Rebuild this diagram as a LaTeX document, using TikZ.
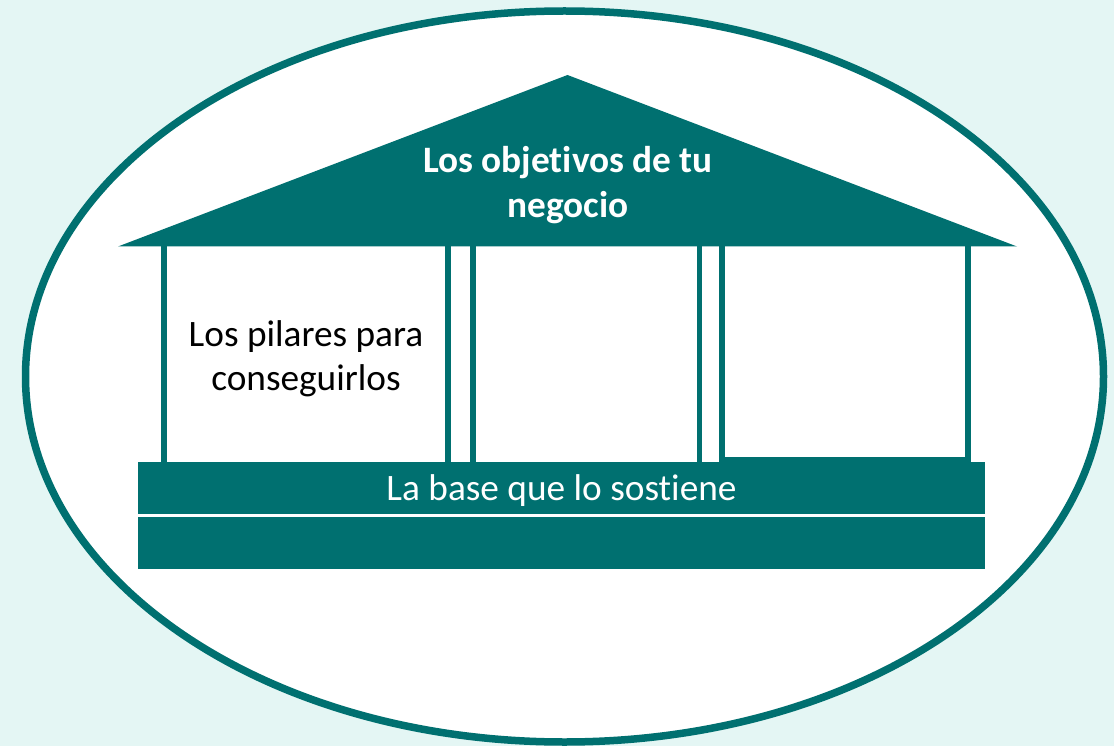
\documentclass[tikz,border=0pt]{standalone}
\usepackage{fontspec}
\setmainfont{Carlito}[Ligatures={NoCommon}]
\definecolor{teal0}{RGB}{0,112,112}
\definecolor{bgc}{RGB}{228,246,244}
\begin{document}
\begin{tikzpicture}[x=1pt,y=-1pt,
  pillarbox/.style={draw=teal0, line width=5.5pt, fill=white},
  baseblock/.style={fill=teal0},
  rooftext/.style={text=white, align=center, inner sep=0pt, font=\fontsize{37.3}{45}\selectfont\bfseries},
  pillartext/.style={text=black, align=center, inner sep=0pt, font=\fontsize{37.3}{44}\selectfont},
  basetext/.style={text=white, inner sep=0pt, font=\fontsize{37.3}{44}\selectfont}]
\useasboundingbox (0,0) rectangle (1114,746);
\fill[bgc] (0,0) rectangle (1114,746);
\draw[teal0, line width=7.5pt, fill=white] (564.5,376.5) ellipse [x radius=539pt, y radius=365.5pt];
% pillars
\draw[pillarbox] (164,240) rectangle (448,466);
\draw[pillarbox] (473,240) rectangle (699.7,466);
\draw[pillarbox] (722,240) rectangle (968,459.5);
% roof
\fill[teal0] (118,246.5) -- (567.5,75) -- (1017,246.5) -- cycle;
% base
\fill[baseblock] (138,461.7) rectangle (985,514);
\fill[baseblock] (138,517.3) rectangle (985,569.3);
% texts
\node[rooftext, anchor=base] (goal) at (568,218) {Los objetivos de tu\\negocio};
\node[pillartext, anchor=base] (pillars) at (306,390) {Los pilares para\\conseguirlos};
\node[basetext, anchor=base] (base) at (561.5,500) {La base que lo sostiene};
\end{tikzpicture}
\end{document}
